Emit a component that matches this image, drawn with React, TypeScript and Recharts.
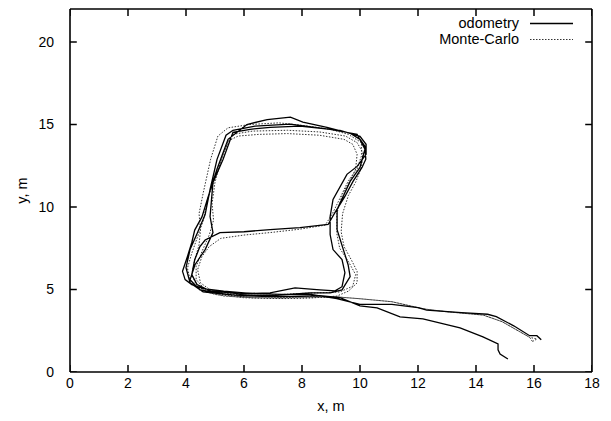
import React from "react";
import { ScatterChart, Scatter, XAxis, YAxis, Legend, Label } from "recharts";

const xTicks = [0, 2, 4, 6, 8, 10, 12, 14, 16, 18];
const yTicks = [0, 5, 10, 15, 20];
const xDomain: [number, number] = [0, 18];
const yDomain: [number, number] = [0, 22];
const seriesNames = ["odometry", "Monte-Carlo"];

// odometry trajectory [x, y] in metres, in travel order
const odometry: [number, number][] = [
  [16.25, 1.95], [16.1, 2.2], [15.85, 2.2], [15.3, 2.8], [14.7, 3.35], [14.4, 3.5],
  [13.5, 3.6], [12.3, 3.75], [12.0, 3.9], [11.1, 4.1], [10.0, 4.1], [9.2, 4.45],
  [8.3, 4.7], [7.3, 4.7], [6.3, 4.75], [5.3, 4.9], [4.6, 5.05], [4.2, 5.3],
  [3.97, 5.6], [3.88, 6.1], [4.05, 7.0], [4.2, 7.85], [4.3, 8.6], [4.55, 9.4],
  [4.76, 10.6], [5.07, 12.3], [5.45, 14.1],
  [6.1, 15.0], [6.8, 15.3], [7.6, 15.45], [8.03, 15.14], [8.86, 14.83], [9.66, 14.47],
  [10.0, 14.1], [10.17, 13.68],
  [10.2, 12.9], [10.07, 12.4], [9.76, 11.55], [9.48, 10.64], [9.14, 9.67], [8.9, 8.94],
  [7.93, 8.75], [6.9, 8.63], [6.0, 8.5], [5.17, 8.45], [4.66, 8.0], [4.48, 7.6],
  [4.3, 6.8], [4.2, 5.9], [4.38, 5.3], [4.83, 4.92],
  [5.86, 4.74], [6.9, 4.8], [7.76, 5.1], [8.62, 4.98], [9.14, 4.92],
  [9.38, 5.17], [9.48, 6.02], [9.38, 6.81], [9.07, 7.42], [8.97, 8.33], [8.97, 9.42],
  [9.07, 10.46], [9.55, 11.98], [9.9, 12.46], [10.21, 13.19], [10.21, 13.8], [10.0, 14.28],
  [9.31, 14.65], [7.93, 14.9], [6.9, 14.83], [6.21, 14.71], [5.62, 14.53],
  [5.28, 12.89], [4.93, 11.49], [4.83, 9.42], [4.93, 8.45],
  [4.66, 7.42], [4.31, 6.5], [4.14, 5.59], [4.48, 4.98],
  [5.52, 4.68], [6.9, 4.62], [8.28, 4.8], [8.97, 4.8],
  [9.38, 4.98], [9.66, 5.78], [9.59, 6.5], [9.21, 8.63],
  [9.21, 9.85], [9.66, 11.55], [10.0, 12.4], [10.17, 13.5], [9.9, 14.41],
  [8.97, 14.71], [7.59, 15.02], [6.38, 14.9], [5.62, 14.65], [5.38, 14.35],
  [5.07, 12.89], [4.83, 11.06], [4.66, 9.54], [4.41, 8.5],
  [4.14, 7.42], [4.0, 6.32], [4.14, 5.41], [4.59, 4.86],
  [5.86, 4.62], [7.24, 4.56], [8.62, 4.62], [9.31, 4.5], [10.0, 4.01],
  [10.59, 3.89], [11.38, 3.34], [12.17, 3.22], [13.45, 2.67], [14.24, 2.13],
  [14.76, 1.7], [14.76, 1.34], [14.83, 1.09], [15.1, 0.79],
];

// Monte-Carlo localisation trajectory [x, y] in metres
const monteCarlo: [number, number][] = [
  [15.95, 1.85], [16.1, 2.0], [15.85, 2.1], [14.9, 3.05], [14.25, 3.45], [13.0, 3.65],
  [12.3, 3.8], [12.0, 3.9], [11.1, 4.26], [10.0, 4.44], [9.2, 4.55],
  [8.3, 4.55], [7.3, 4.5], [6.3, 4.5], [5.3, 4.6], [4.7, 4.85], [4.35, 5.3],
  [4.2, 5.9], [4.3, 6.8], [4.45, 7.7], [4.5, 8.6],
  [4.45, 9.6], [4.6, 10.9], [4.85, 12.9], [5.1, 14.3], [5.45, 14.8],
  [6.2, 15.0], [7.2, 15.1], [8.0, 14.95], [9.0, 14.7], [9.6, 14.4], [10.05, 13.9],
  [10.05, 13.1], [9.9, 12.3], [9.6, 11.6], [9.3, 10.5], [9.05, 9.6], [8.8, 8.9],
  [7.9, 8.65], [6.9, 8.45], [6.0, 8.3], [5.2, 8.1], [4.8, 7.6],
  [4.55, 7.0], [4.4, 6.2], [4.5, 5.4], [4.9, 4.9],
  [5.9, 4.65], [6.9, 4.65], [7.8, 4.75], [8.6, 4.8], [9.3, 4.85],
  [9.75, 5.2], [9.85, 5.9], [9.6, 6.7], [9.3, 7.5], [9.2, 8.4],
  [9.2, 9.6], [9.4, 10.8], [9.65, 11.6], [9.85, 12.3], [9.9, 13.2], [9.75, 13.8], [9.45, 14.1],
  [8.6, 14.35], [7.5, 14.45], [6.5, 14.4], [5.8, 14.3], [5.45, 14.0],
  [5.2, 12.8], [5.0, 11.5], [4.9, 10.2], [4.95, 9.2], [4.8, 8.3],
  [4.55, 7.3], [4.35, 6.4], [4.35, 5.6], [4.65, 5.0], [5.2, 4.7],
  [6.3, 4.5], [7.4, 4.45], [8.4, 4.5], [9.2, 4.6], [9.6, 4.9],
  [9.9, 5.4], [9.9, 6.1], [9.7, 6.8], [9.45, 7.6], [9.35, 8.5],
  [9.4, 9.6], [9.6, 10.7], [9.85, 11.5], [10.05, 12.4], [10.1, 13.3], [9.9, 13.9], [9.5, 14.3],
  [8.6, 14.55], [7.5, 14.65], [6.3, 14.6], [5.6, 14.4],
  [5.3, 13.3], [5.05, 12.0], [4.75, 10.5], [4.6, 9.2], [4.4, 8.2],
  [4.2, 7.2], [4.05, 6.3], [4.15, 5.5], [4.5, 5.0], [5.0, 4.7],
  [6.0, 4.5], [7.2, 4.45], [8.3, 4.5], [9.2, 4.55], [10.0, 4.44], [11.1, 4.26],
  [12.0, 3.9], [12.3, 3.8], [13.0, 3.65], [14.25, 3.45], [14.9, 3.05], [15.85, 2.1], [15.95, 1.85],
];

const toPoints = (arr: [number, number][]) => arr.map(([x, y]) => ({ x, y }));

const FONT = "'Liberation Sans', Arial, Helvetica, sans-serif";
const tickStyle = { fontSize: 14, fill: "#000", fontFamily: FONT };
const frameLine = { stroke: "#000", strokeWidth: 1.6 };

// inward tick-mark length as a fraction of each axis span
const TICK_FRAC_X = 0.013;
const TICK_FRAC_Y = 0.019;

const NoDot = () => <g />;
const NoTickLabel = () => <g />;

type Side = "bottom" | "top" | "left" | "right";

// one short segment per tick mark, as its own two-point series
function tickSegments(side: Side) {
  const tx = (xDomain[1] - xDomain[0]) * TICK_FRAC_X;
  const ty = (yDomain[1] - yDomain[0]) * TICK_FRAC_Y;
  if (side === "bottom" || side === "top") {
    const y0 = side === "bottom" ? yDomain[0] : yDomain[1];
    const y1 = side === "bottom" ? y0 + ty : y0 - ty;
    return xTicks.map((x) => [{ x, y: y0 }, { x, y: y1 }]);
  }
  const x0 = side === "left" ? xDomain[0] : xDomain[1];
  const x1 = side === "left" ? x0 + tx : x0 - tx;
  return yTicks.map((y) => [{ x: x0, y }, { x: x1, y }]);
}

const LegendBox = () => (
  <div style={{ width: 150, fontFamily: FONT, fontSize: 14.5, color: "#000" }}>
    {seriesNames.map((name, i) => (
      <div
        key={name}
        style={{ display: "flex", justifyContent: "flex-end", alignItems: "center", height: 16, lineHeight: "16px" }}
      >
        <span>{name}</span>
        <svg width={43} height={16} style={{ marginLeft: 11 }}>
          <line
            x1={0}
            x2={43}
            y1={8.5}
            y2={8.5}
            stroke={i === 0 ? "#000" : "#333"}
            strokeWidth={i === 0 ? 1.3 : 1}
            strokeDasharray={i === 0 ? undefined : "1.5 1.5"}
          />
        </svg>
      </div>
    ))}
  </div>
);

export default function App() {
  const odo = toPoints(odometry);
  const mc = toPoints(monteCarlo);
  const sides: Side[] = ["bottom", "top", "left", "right"];
  const segs = sides.flatMap((s) => tickSegments(s).map((seg, i) => ({ key: `${s}-${i}`, seg })));
  return (
    <div style={{ position: "absolute", left: 0, top: 0, background: "#fff" }}>
      <ScatterChart width={611} height={421} margin={{ top: 9, right: 19, bottom: 0, left: 0 }}>
        <XAxis
          xAxisId={0}
          type="number"
          dataKey="x"
          domain={xDomain}
          ticks={xTicks}
          interval={0}
          allowDataOverflow
          height={49}
          tickSize={6}
          tickMargin={0}
          tick={tickStyle}
          axisLine={frameLine}
          tickLine={false}
        >
          <Label value="x, m" position="center" dy={9} style={{ fontSize: 14.5, fill: "#000", fontFamily: FONT }} />
        </XAxis>
        <YAxis
          yAxisId={0}
          type="number"
          dataKey="y"
          domain={yDomain}
          ticks={yTicks}
          interval={0}
          allowDataOverflow
          width={70}
          tickSize={6}
          tickMargin={10}
          tick={tickStyle}
          axisLine={frameLine}
          tickLine={false}
        >
          <Label value="y, m" position="center" angle={-90} dx={-13} style={{ fontSize: 14.5, fill: "#000", fontFamily: FONT }} />
        </YAxis>
        {/* top / right frame */}
        <XAxis
          xAxisId="top"
          orientation="top"
          mirror
          type="number"
          dataKey="x"
          domain={xDomain}
          ticks={xTicks}
          interval={0}
          allowDataOverflow
          tick={NoTickLabel}
          axisLine={frameLine}
          tickLine={false}
        />
        <YAxis
          yAxisId="right"
          orientation="right"
          mirror
          type="number"
          dataKey="y"
          domain={yDomain}
          ticks={yTicks}
          interval={0}
          allowDataOverflow
          tick={NoTickLabel}
          axisLine={frameLine}
          tickLine={false}
        />
        <Legend
          layout="vertical"
          verticalAlign="middle"
          align="center"
          content={() => <LegendBox />}
          wrapperStyle={{ position: "absolute", top: 15, left: 423, width: 150 }}
        />
        <Scatter
          name={seriesNames[1]}
          data={mc}
          xAxisId="top"
          yAxisId="right"
          shape={NoDot}
          line={{ stroke: "#333", strokeWidth: 1, strokeDasharray: "1.5 1.5" }}
          lineJointType="linear"
          isAnimationActive={false}
          legendType="none"
        />
        <Scatter
          name={seriesNames[0]}
          data={odo}
          xAxisId={0}
          yAxisId={0}
          shape={NoDot}
          line={{ stroke: "#000", strokeWidth: 1.3 }}
          lineJointType="linear"
          isAnimationActive={false}
          legendType="none"
        />
        {/* inward tick marks on all four sides */}
        {segs.map(({ key, seg }) => (
          <Scatter
            key={key}
            name={`tick-${key}`}
            data={seg}
            xAxisId={0}
            yAxisId={0}
            shape={NoDot}
            line={{ stroke: "#000", strokeWidth: 1.5 }}
            lineJointType="linear"
            isAnimationActive={false}
            legendType="none"
          />
        ))}
      </ScatterChart>
    </div>
  );
}
